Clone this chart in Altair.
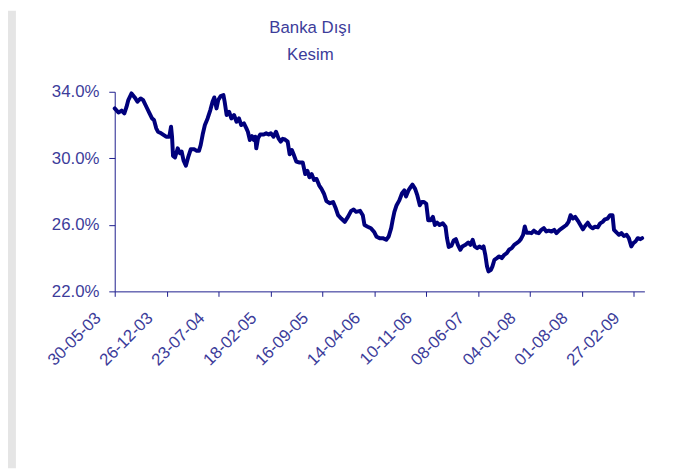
import altair as alt
import pandas as pd

dates = [
    "2003-05-30", "2003-06-14", "2003-06-27", "2003-07-08", "2003-07-17", "2003-07-24",
    "2003-08-06", "2003-08-19", "2003-08-30", "2003-09-12", "2003-09-22", "2003-10-05",
    "2003-10-18", "2003-10-28", "2003-11-05", "2003-11-14", "2003-11-21", "2003-12-04",
    "2003-12-24", "2004-01-06", "2004-01-13", "2004-01-17", "2004-01-21", "2004-01-29",
    "2004-02-09", "2004-02-18", "2004-02-25", "2004-03-04", "2004-03-13", "2004-03-22",
    "2004-04-02", "2004-04-15", "2004-04-26", "2004-05-05", "2004-05-12", "2004-05-20",
    "2004-05-29", "2004-06-09", "2004-06-20", "2004-06-29", "2004-07-06", "2004-07-15",
    "2004-07-22", "2004-08-01", "2004-08-12", "2004-08-17", "2004-08-25", "2004-09-04",
    "2004-09-13", "2004-09-24", "2004-10-04", "2004-10-14", "2004-10-23", "2004-11-03",
    "2004-11-13", "2004-11-19", "2004-11-27", "2004-12-06", "2004-12-13", "2004-12-19",
    "2004-12-23", "2004-12-30", "2005-01-08", "2005-01-22", "2005-02-01", "2005-02-11",
    "2005-02-20", "2005-03-03", "2005-03-13", "2005-03-23", "2005-04-01", "2005-04-09",
    "2005-04-18", "2005-04-29", "2005-05-07", "2005-05-16", "2005-05-23", "2005-06-03",
    "2005-06-16", "2005-06-29", "2005-07-09", "2005-07-18", "2005-07-26", "2005-08-04",
    "2005-08-14", "2005-08-24", "2005-09-04", "2005-09-13", "2005-09-23", "2005-10-03",
    "2005-10-17", "2005-10-30", "2005-11-10", "2005-11-19", "2005-12-02", "2005-12-16",
    "2005-12-29", "2006-01-11", "2006-01-21", "2006-01-31", "2006-02-16", "2006-02-27",
    "2006-03-06", "2006-03-19", "2006-04-01", "2006-04-15", "2006-04-24", "2006-05-06",
    "2006-05-19", "2006-06-02", "2006-06-12", "2006-06-22", "2006-06-28", "2006-07-05",
    "2006-07-14", "2006-07-25", "2006-08-05", "2006-08-14", "2006-08-21", "2006-08-31",
    "2006-09-10", "2006-09-16", "2006-09-27", "2006-10-06", "2006-10-16", "2006-10-24",
    "2006-11-02", "2006-11-11", "2006-11-19", "2006-11-29", "2006-12-08", "2006-12-16",
    "2006-12-25", "2007-01-04", "2007-01-17", "2007-01-28", "2007-02-03", "2007-02-10",
    "2007-02-21", "2007-03-02", "2007-03-11", "2007-03-19", "2007-03-29", "2007-04-06",
    "2007-04-19", "2007-04-30", "2007-05-09", "2007-05-18", "2007-05-26", "2007-06-05",
    "2007-06-14", "2007-06-25", "2007-07-01", "2007-07-08", "2007-07-15", "2007-07-21",
    "2007-07-31", "2007-08-06", "2007-08-14", "2007-08-24", "2007-09-02", "2007-09-13",
    "2007-09-23", "2007-10-03", "2007-10-12", "2007-10-23", "2007-11-02", "2007-11-12",
    "2007-11-21", "2007-11-29", "2007-12-08", "2007-12-15", "2007-12-22", "2007-12-31",
    "2008-01-11", "2008-01-21", "2008-01-31", "2008-02-09", "2008-02-20", "2008-03-01",
    "2008-03-11", "2008-03-21", "2008-04-01", "2008-04-12", "2008-04-21", "2008-05-04",
    "2008-05-18", "2008-05-31", "2008-06-09", "2008-06-17", "2008-06-27", "2008-07-06",
    "2008-07-17", "2008-07-27", "2008-08-06", "2008-08-15", "2008-08-26", "2008-09-05",
    "2008-09-15", "2008-09-24", "2008-10-05", "2008-10-15", "2008-10-25", "2008-11-03",
    "2008-11-14", "2008-11-24", "2008-12-04", "2008-12-10", "2008-12-21", "2008-12-30",
    "2009-01-09", "2009-01-19", "2009-01-30", "2009-02-08", "2009-02-18", "2009-02-26",
    "2009-03-07", "2009-03-16", "2009-03-27", "2009-04-03",
]

values = [
    33.0, 32.75, 32.87, 32.7, 33.1, 33.5,
    33.9, 33.66, 33.4, 33.6, 33.5, 33.1,
    32.7, 32.4, 32.3, 31.8, 31.6, 31.5,
    31.3, 31.3, 31.9, 31.3, 30.14, 30.05,
    30.6, 30.3, 30.4, 29.85, 29.55, 30.05,
    30.55, 30.55, 30.45, 30.45, 30.8, 31.43,
    32.0, 32.4, 32.9, 33.4, 33.66, 33.0,
    33.5, 33.74, 33.8, 33.4, 32.6, 32.8,
    32.4, 32.6, 32.2, 32.4, 32.0, 32.1,
    31.8, 31.6, 31.1, 31.33, 31.1, 31.3,
    30.6, 31.2, 31.43, 31.43, 31.5, 31.43,
    31.5, 31.3, 31.6, 31.2, 31.0, 31.17,
    31.13, 31.0, 30.24, 30.5, 30.24, 29.8,
    29.75, 29.75, 29.05, 29.25, 28.86, 29.05,
    28.7, 28.76, 28.36, 28.16, 27.87, 27.43,
    27.3, 27.37, 26.98, 26.58, 26.38, 26.18,
    26.48, 26.84, 26.92, 26.78, 26.84, 26.58,
    25.99, 25.89, 25.8, 25.55, 25.28, 25.2,
    25.2, 25.1, 25.3, 25.8, 26.28, 26.78,
    27.18, 27.47, 27.9, 28.07, 27.7, 28.07,
    28.3, 28.42, 28.16, 27.77, 27.18, 27.37,
    27.37, 27.27, 26.28, 26.28, 26.48, 25.99,
    26.13, 25.99, 26.09, 25.89, 25.2, 24.67,
    24.74, 25.06, 25.14, 24.8, 24.5, 24.7,
    24.8, 24.94, 24.8, 25.1, 24.7, 24.6,
    24.7, 24.6, 24.7, 24.2, 23.5, 23.2,
    23.3, 23.5, 23.9, 24.0, 24.1, 24.0,
    24.2, 24.3, 24.5, 24.6, 24.8, 24.9,
    25.0, 25.14, 25.4, 25.9, 25.53, 25.53,
    25.5, 25.65, 25.53, 25.5, 25.7, 25.8,
    25.6, 25.65, 25.6, 25.7, 25.5, 25.7,
    25.85, 25.99, 26.18, 26.58, 26.38, 26.48,
    26.24, 25.99, 25.73, 25.93, 26.13, 25.89,
    25.79, 25.89, 25.85, 26.09, 26.18, 26.33,
    26.38, 26.58, 26.58, 25.7, 25.53, 25.4,
    25.5, 25.33, 25.4, 25.2, 24.7, 24.9,
    25.0, 25.2, 25.14, 25.2,
]

tick_dates = [
    (2003, 5, 30), (2003, 12, 26), (2004, 7, 23), (2005, 2, 18), (2005, 9, 16),
    (2006, 4, 14), (2006, 11, 10), (2007, 6, 8), (2008, 1, 4), (2008, 8, 1), (2009, 2, 27),
]
y_ticks = [22, 26, 30, 34]
title_lines = ["Banka Dışı", "Kesim"]

df = pd.DataFrame({"date": dates, "value": values})

text_color = "#3c3c9a"
axis_color = "#1c1c8c"
line_color = "#00007c"

x_axis = alt.Axis(
    values=[alt.DateTime(year=y, month=m, date=d, utc=True) for (y, m, d) in tick_dates],
    labelExpr="utcFormat(datum.value, '%d-%m-%y')",
    labelAngle=-45,
    labelAlign="right",
    labelBaseline="middle",
    labelOffset=-17,
    labelPadding=19,
    labelOverlap=False,
    labelBound=False,
    tickSize=5,
    title=None,
    grid=False,
)

y_axis = alt.Axis(
    values=y_ticks,
    labelExpr="format(datum.value, '.1f') + '%'",
    tickSize=6,
    labelPadding=10,
    labelOverlap=False,
    title=None,
    grid=False,
)

line = alt.Chart(df).mark_line(
    color=line_color, strokeWidth=4, strokeJoin="round", strokeCap="round"
).encode(
    x=alt.X(
        "date:T",
        axis=x_axis,
        scale=alt.Scale(
            domain=[
                alt.DateTime(year=2003, month=5, date=30, utc=True),
                alt.DateTime(year=2009, month=4, date=12, utc=True),
            ],
            nice=False,
        ),
    ),
    y=alt.Y("value:Q", axis=y_axis, scale=alt.Scale(domain=[22, 34], nice=False, zero=False)),
)

one = pd.DataFrame({"k": [0]})

band = alt.Chart(one).mark_rect(color="#e5e5e5").encode(
    x=alt.value(-108), x2=alt.value(-100), y=alt.value(-82), y2=alt.value(381)
)

title_style = dict(
    font="Liberation Sans", fontSize=17, color=text_color,
    align="center", baseline="alphabetic",
)
title1 = alt.Chart(one).mark_text(text=title_lines[0], **title_style).encode(
    x=alt.value(198), y=alt.value(-59)
)
title2 = alt.Chart(one).mark_text(text=title_lines[1], **title_style).encode(
    x=alt.value(198), y=alt.value(-32)
)

chart = alt.layer(band, title1, title2, line).properties(
    width=536,
    height=202,
    padding={"left": 108, "top": 82, "right": 33, "bottom": 179},
    autosize=alt.AutoSizeParams(type="none"),
).configure(
    background="white"
).configure_view(
    stroke=None
).configure_axis(
    domainColor=axis_color,
    tickColor=axis_color,
    domainWidth=1,
    tickWidth=1,
    labelColor=text_color,
    labelFont="Liberation Sans",
    labelFontSize=17,
)

chart.save("out.html", embed_options={"renderer": "svg", "actions": False})
